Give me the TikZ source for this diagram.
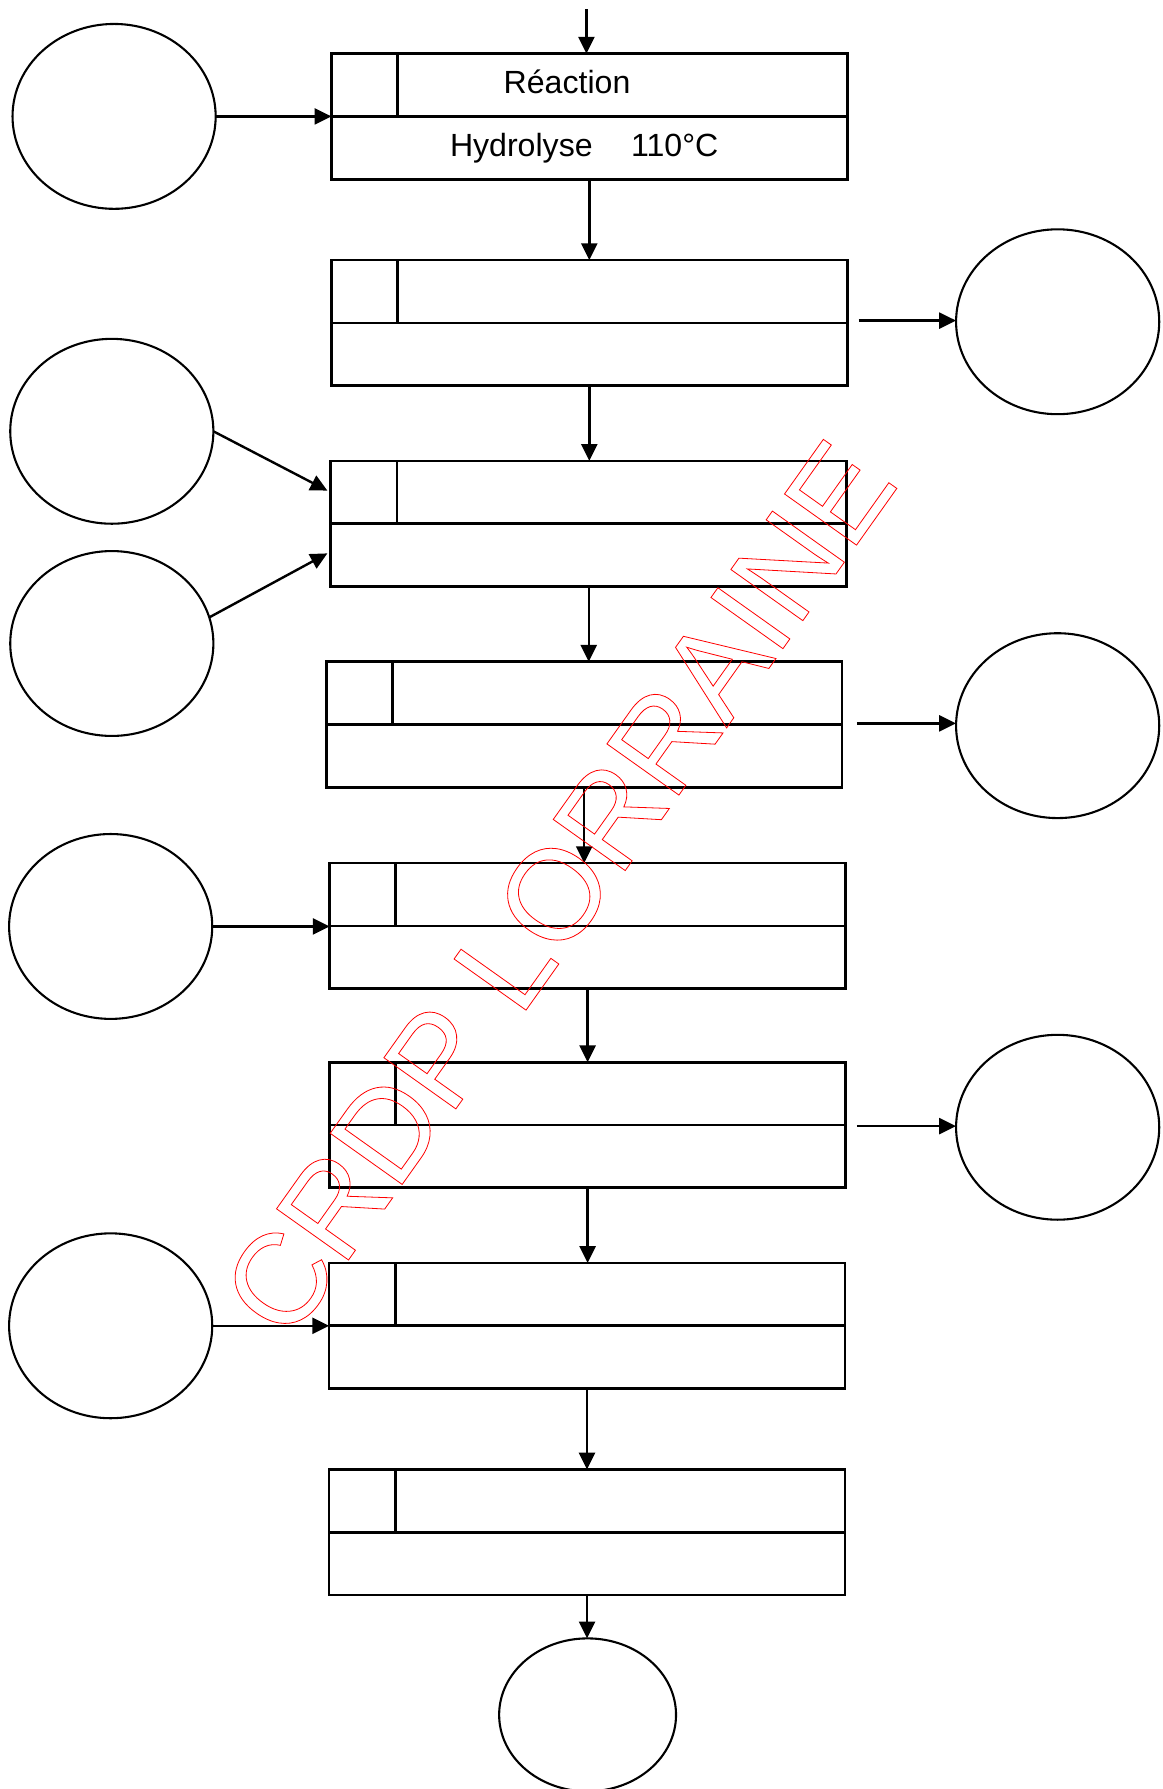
\documentclass[tikz,border=0pt]{standalone}
\usepackage{fontspec}
\setmainfont{Liberation Sans}
\usetikzlibrary{shapes.geometric,arrows.meta,calc}
\newcommand\outlinetext[1]{\special{pdf:literal direct 1 Tr 0.5 w}#1\special{pdf:literal direct 0 Tr}}
\begin{document}
\begin{tikzpicture}[x=0.025cm,y=-0.025cm,
  procbox/.style={draw,line width=1.7pt,minimum width=11.3cm,minimum height=2.75cm,inner sep=0pt,outer sep=0pt},
  blob/.style={draw,ellipse,line width=1.3pt,minimum width=4.45cm,minimum height=4.05cm,inner sep=0pt,outer sep=0pt},
  smallblob/.style={blob,minimum width=3.875cm,minimum height=3.35cm},
  arr/.style={line width=1.5pt,-{Triangle[length=10.5pt,width=10pt]}},
  divline/.style={line width=1.7pt},
  lbl/.style={font=\fontsize{20pt}{24pt}\selectfont,inner sep=0pt}]
\useasboundingbox (0,0) rectangle (1019,1568);

% process boxes
\foreach \n/\x/\y in {b1/516.5/102, b2/516.5/283, b3/516/459, b4/512/635,
                      b5/515/811.5, b6/515/986, b7/514.5/1162, b8/514.5/1343}{
  \node[procbox] (\n) at (\x,\y) {};
  \draw[divline] (\n.west) -- (\n.east);
  \draw[divline] ($(\n.north west)+(58,0)$) -- ($(\n.west)+(58,0)$);
}

% labels
\node[lbl] (t1) at (497,72) {Réaction};
\node[lbl] (t2) at (512,130) {Hydrolyse\hspace{24pt}110°C};

% ellipses
\node[blob] (L1) at (100,102) {};
\node[blob] (R1) at (927,282) {};
\node[blob] (L2) at (98,378) {};
\node[blob] (L3) at (98,564) {};
\node[blob] (R2) at (927,636) {};
\node[blob] (L4) at (97,812) {};
\node[blob] (R3) at (927,988) {};
\node[blob] (L5) at (97,1162) {};
\node[smallblob] (E) at (515,1503) {};

% top inflow
\coordinate (top) at (514,8);
\draw[arr] (top) -- (top |- b1.north);

% vertical chain
\draw[arr] (b1.south) -- (b1.south |- b2.north);
\draw[arr] (b2.south) -- (b2.south |- b3.north);
\draw[arr] (b3.south) -- (b3.south |- b4.north);
\draw[arr] (b4.south) -- (b4.south |- b5.north);
\draw[arr] (b5.south) -- (b5.south |- b6.north);
\draw[arr] (b6.south) -- (b6.south |- b7.north);
\draw[arr] (b7.south) -- (b7.south |- b8.north);
\draw[arr] (b8.south) -- (b8.south |- E.north);

% inputs from left
\draw[arr] (L1.east) -- (b1.west);
\draw[arr] (L2.east) -- ($(b3.west)+(-3,-29)$);
\draw[arr] (L3.15) -- ($(b3.west)+(-3,26)$);
\draw[arr] (L4.east) -- (L4.east -| b5.west);
\draw[arr] (L5.east) -- (L5.east -| b7.west);

% outputs to right
\coordinate (o1) at ($(b2.east)+(10,-2)$);
\coordinate (o2) at ($(b4.east)+(13,-1)$);
\coordinate (o3) at ($(b6.east)+(10,1)$);
\draw[arr] (o1) -- (o1 -| R1.west);
\draw[arr] (o2) -- (o2 -| R2.west);
\draw[arr] (o3) -- (o3 -| R3.west);

% watermark
\node[red,rotate=54.6,anchor=base,inner sep=0pt,font=\fontsize{80pt}{82pt}\selectfont] (wm) at (521,801)
  {\outlinetext{CRDP LORRAINE}};
\end{tikzpicture}
\end{document}
